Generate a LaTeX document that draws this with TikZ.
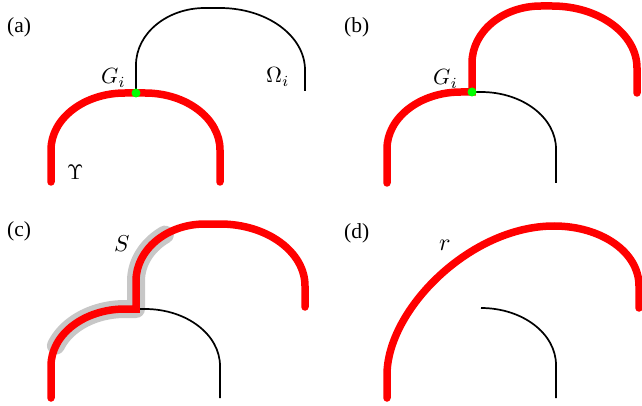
\documentclass[tikz,border=0pt]{standalone}
\usepackage{fontspec}
\setmainfont{Liberation Serif}
\tikzset{
  redline/.style={draw=red, line width=7.5pt, line cap=round},
  blackline/.style={draw=black, line width=1.7pt},
  hl/.style={draw=black!22, line width=18pt, line cap=round, line join=round},
  gdot/.style={circle, fill=green, inner sep=0pt, minimum size=9pt},
  panel/.style={anchor=base west, inner sep=0pt},
  lab/.style={anchor=base west, inner sep=0pt},
}
\begin{document}
\begin{tikzpicture}[x=1pt, y=-1pt]
\useasboundingbox (0,0) rectangle (642,406);

% ---------- (a) ----------
\node[panel] (la) at (7,33) {\scalebox{2.15}{(a)}};
\draw[blackline] (136,93) -- (136,65) .. controls (136,33.5) and (166.9,8) .. (205,8)
  -- (220,8) .. controls (266.9,8) and (305,35.8) .. (305,70) -- (305,91);
\draw[redline] (51,182) -- (51,150) .. controls (51,118.5) and (84.1,93) .. (125,93)
  -- (145,93) .. controls (186.4,93) and (220,118.5) .. (220,150) -- (220,182);
\node[gdot] (ga) at (136,93) {};
\node[lab] (Ga) at (101,84) {\scalebox{2.2}{$G_i$}};
\node[lab] (Om) at (266,83) {\scalebox{2.2}{$\Omega_i$}};
\node[lab] (Up) at (67,180) {\scalebox{2.1}{$\Upsilon$}};

% ---------- (b) ----------
\node[panel] (lb) at (344,33) {\scalebox{2.15}{(b)}};
\draw[blackline] (472,92) -- (481,92) .. controls (522.4,92) and (556,117.5) .. (556,149) -- (556,183);
\draw[redline] (387,183) -- (387,149) .. controls (387,117.5) and (420.1,92) .. (461,92)
  -- (472,92) -- (472,63) .. controls (472,31.5) and (502.9,6) .. (541,6)
  -- (552,6) .. controls (598.9,6) and (637,33.8) .. (637,68) -- (637,93);
\node[gdot] (gb) at (472,92) {};
\node[lab] (Gb) at (433,85) {\scalebox{2.2}{$G_i$}};

% ---------- (c) ----------
\node[panel] (lc) at (7,236) {\scalebox{2.15}{(c)}};
\draw[hl] plot[domain=201:270, samples=30] ({125+74*cos(\x)},{366+57*sin(\x)})
  -- (136,309) -- plot[domain=180:234.5, samples=30] ({205+69*cos(\x)},{281+57*sin(\x)});
\draw[blackline] (136,309) -- (145,309) .. controls (186.4,309) and (220,334.5) .. (220,366) -- (220,398);
\draw[redline] (51,398) -- (51,366) .. controls (51,334.5) and (84.1,309) .. (125,309)
  -- (136,309) -- (136,281) .. controls (136,249.5) and (166.9,224) .. (205,224)
  -- (220,224) .. controls (266.9,224) and (305,251.8) .. (305,286) -- (305,307);
\node[lab] (S) at (114,251) {\scalebox{2.3}{$S$}};

% ---------- (d) ----------
\node[panel] (ld) at (344,238) {\scalebox{2.15}{(d)}};
\draw[blackline] (481,308) .. controls (522.4,308) and (556,333.5) .. (556,365) -- (556,398);
\draw[redline] (387,398) -- (387,375) .. controls (387,310) and (470,226) .. (554,226)
  .. controls (600.9,226) and (639,251.8) .. (639,286) -- (639,308);
\node[lab] (r) at (439,250) {\scalebox{2.4}{$r$}};
\end{tikzpicture}
\end{document}
